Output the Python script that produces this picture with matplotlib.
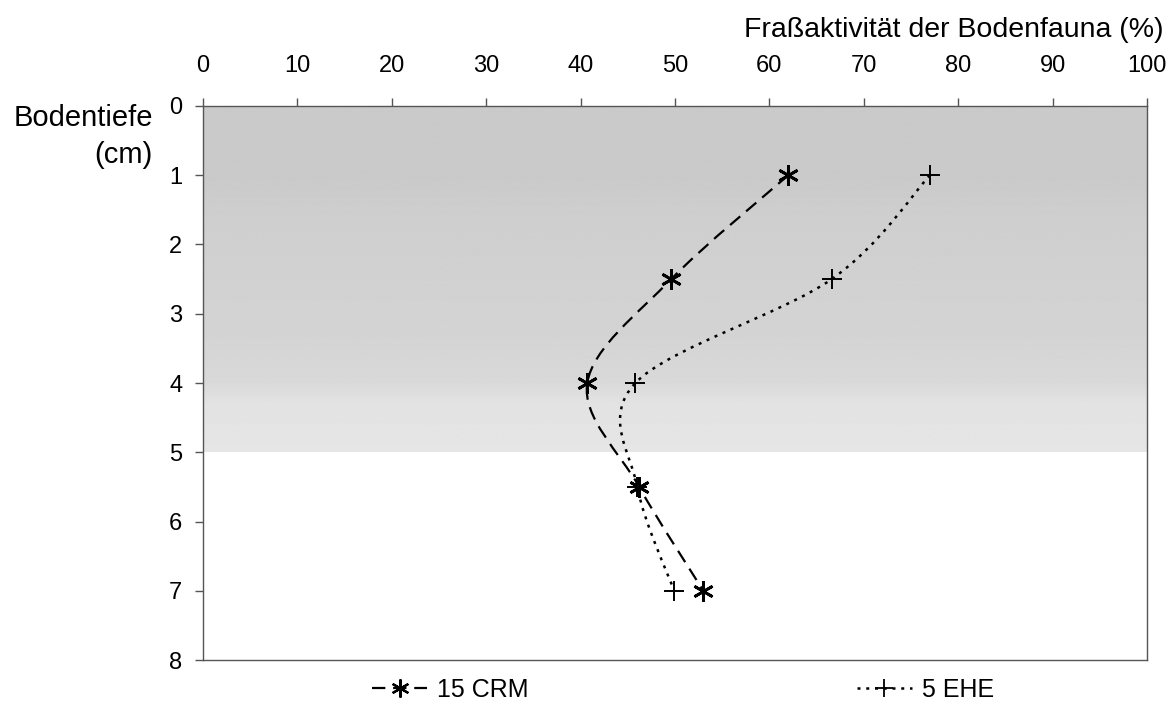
import matplotlib
matplotlib.use('Agg')
import matplotlib.pyplot as plt
import numpy as np
from matplotlib.path import Path
from matplotlib.patches import PathPatch
from matplotlib.lines import Line2D

plt.rcParams['font.family'] = ['Liberation Sans', 'DejaVu Sans']
plt.rcParams['font.size'] = 17

# soil depth (cm) and feeding activity (%)
depth = [1, 2.5, 4, 5.5, 7]
crm_15 = [62, 49.6, 40.7, 46.2, 53.0]
ehe_5 = [77, 66.6, 45.8, 46.0, 49.9]

x_ticks = list(range(0, 101, 10))
y_ticks = list(range(0, 9))

# grey shading of the upper soil layer (depth, grey level)
shade_depth = [0, 1, 1.6, 2.5, 3.3, 4.0, 4.3, 5.0]
shade_level = [0.79, 0.79, 0.81, 0.82, 0.83, 0.85, 0.89, 0.90]


def smooth_path(xs, ys):
    # Bezier segments through the points, like a spreadsheet "smoothed line"
    pts = np.column_stack([xs, ys]).astype(float)
    n = len(pts)
    verts = [pts[0]]
    codes = [Path.MOVETO]
    for i in range(n - 1):
        p0 = pts[i - 1] if i > 0 else pts[i]
        p1 = pts[i]
        p2 = pts[i + 1]
        p3 = pts[i + 2] if i + 2 < n else pts[i + 1]
        verts += [p1 + (p2 - p0) / 6, p2 - (p3 - p1) / 6, p2]
        codes += [Path.CURVE4] * 3
    return Path(verts, codes)


fig = plt.figure(figsize=(11.75, 7.06), dpi=100)
ax = fig.add_axes([0.1728, 0.065, 0.8034, 0.785])

# background shading 0-5 cm
grid = np.linspace(0, 5, 200)
col = np.interp(grid, shade_depth, shade_level)
img = np.repeat(col[:, None], 2, axis=1)
ax.imshow(img, cmap='gray', vmin=0, vmax=1, extent=[0, 100, 5, 0],
          aspect='auto', interpolation='bilinear', zorder=0)

crm_style = dict(color='black', linewidth=1.6, linestyle=(0, (6, 3.5)))
ehe_style = dict(color='black', linewidth=1.8, linestyle=(0, (1.2, 2.3)))

ax.add_patch(PathPatch(smooth_path(crm_15, depth), fill=False, zorder=2, **crm_style))
ax.add_patch(PathPatch(smooth_path(ehe_5, depth), fill=False, zorder=2, **ehe_style))

ax.plot(ehe_5, depth, linestyle='none', marker='+', markersize=15,
        markeredgewidth=1.4, color='black', zorder=3)
ax.plot(crm_15, depth, linestyle='none', marker=(6, 2, 0), markersize=15,
        markeredgewidth=2.0, color='black', zorder=3)

ax.set_xlim(0, 100)
ax.set_ylim(8, 0)
ax.xaxis.tick_top()
ax.set_xticks(x_ticks)
ax.set_yticks(y_ticks)
ax.tick_params(axis='both', direction='out', length=6, width=1, color='#555555')
ax.tick_params(axis='x', pad=15)
ax.tick_params(axis='y', pad=9)
for s in ax.spines.values():
    s.set_color('#555555')
    s.set_linewidth(1)

fig.text(0.990, 0.958, 'Fraßaktivität der Bodenfauna (%)', ha='right', va='center', fontsize=20.5)
fig.text(0.130, 0.833, 'Bodentiefe', ha='right', va='center', fontsize=21)
fig.text(0.130, 0.780, '(cm)', ha='right', va='center', fontsize=21)

# legend entries below the plot
h_crm = Line2D([], [], marker=(6, 2, 0), markersize=13, markeredgewidth=1.6, **crm_style)
h_ehe = Line2D([], [], marker='+', markersize=13, markeredgewidth=1.3, **ehe_style)
for handle, label, x0 in [(h_crm, '15 CRM', 0.317), (h_ehe, '5 EHE', 0.729)]:
    fig.legend([handle], [label], loc='center left', bbox_to_anchor=(x0, 0.023),
               frameon=False, fontsize=18, handlelength=2.2, handletextpad=0.4,
               borderpad=0, borderaxespad=0)

fig.savefig('out.png', dpi=100)
